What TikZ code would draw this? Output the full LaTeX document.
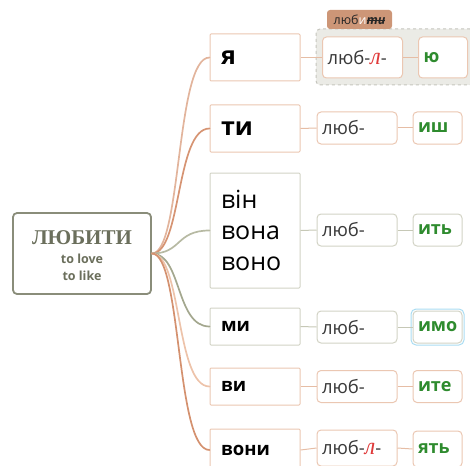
\documentclass[tikz,border=0pt]{standalone}
\usepackage{fontspec}
\setmainfont{Open Sans}
\newfontfamily\serifrm{Liberation Serif}
\usetikzlibrary{fit}

% struck-through text
\newcommand\strikeout[1]{\leavevmode\setbox0\hbox{#1}\rlap{\rule[0.27em]{\wd0}{0.7pt}}\box0}
% the inserted red letter
\newcommand\insl{{\serifrm\itshape\fontsize{24}{20}\selectfont\color{lred}л}}

\definecolor{peach}{HTML}{EBC7B2}
\definecolor{sage}{HTML}{D2D3C5}
\definecolor{peachln}{HTML}{E6BDA5}
\definecolor{sageln}{HTML}{C6C8B6}
\definecolor{rootln}{HTML}{8A8D7A}
\definecolor{roottx}{HTML}{6B6F5C}
\definecolor{stemtx}{HTML}{3A3A3A}
\definecolor{endtx}{HTML}{2E8B2E}
\definecolor{lred}{HTML}{E03A3A}
\definecolor{grpfill}{HTML}{EBEBE6}
\definecolor{grpline}{HTML}{C5C5BD}
\definecolor{tabfill}{HTML}{CD9677}
\definecolor{selblue}{HTML}{A9DCF2}
\definecolor{brA}{HTML}{E2B49C}
\definecolor{brB}{HTML}{D69473}
\definecolor{brC}{HTML}{B7BAA3}
\definecolor{brD}{HTML}{A3A78E}
\definecolor{brE}{HTML}{EDC3AA}
\definecolor{brF}{HTML}{D4916F}

\begin{document}
\begin{tikzpicture}[x=1pt,y=-1pt,
  pbox/.style={draw=#1, line width=1pt, fill=white, rounded corners=1pt,
    minimum width=90pt, text width=68pt, inner xsep=11pt, inner ysep=0pt,
    align=left, text=black},
  sbox/.style={draw=#1, line width=1pt, fill=white, rounded corners=4pt,
    minimum width=80pt, minimum height=32pt, text width=70pt, inner xsep=5pt,
    inner ysep=0pt, align=left, text=stemtx, font=\fontsize{18.5}{20}\selectfont},
  ebox/.style={draw=#1, line width=1pt, fill=white, rounded corners=4pt,
    minimum width=49pt, minimum height=32pt, text width=39pt, inner xsep=5pt,
    inner ysep=0pt, align=left, text=endtx, font=\bfseries\fontsize{18}{20}\selectfont},
  branch/.style={draw=#1, line width=1.7pt, line cap=round},
  link/.style={draw=#1, line width=1pt},
  roottext/.style={text=roottx, inner sep=0pt},
  bigp/.style={font=\bfseries\fontsize{25}{30}\selectfont},
  smallp/.style={font=\bfseries\fontsize{18.5}{22}\selectfont}]

\useasboundingbox (0,0) rectangle (470,465);

% root concept
\node[draw=rootln, line width=1.8pt, rounded corners=4pt, fill=white,
      minimum width=138pt, minimum height=81pt, inner sep=0pt] (root) at (82,253.5) {};
\node[roottext, font=\serifrm\bfseries\fontsize{21}{22}\selectfont] (rootword) at (82,238) {ЛЮБИТИ};
\node[roottext, font=\bfseries\fontsize{12.5}{14}\selectfont] (rootlove) at (82,259) {to love};
\node[roottext, font=\bfseries\fontsize{12.5}{14}\selectfont] (rootlike) at (82,276) {to like};

% pronoun boxes
\node[pbox=peach, minimum height=47pt, bigp] (p1) at (255,57.5) {я};
\node[pbox=peach, minimum height=47pt, bigp] (p2) at (255,128.5) {ти};
\node[pbox=sage, minimum height=115pt, font=\fontsize{25}{31}\selectfont] (p3) at (255,230.5) {він\\вона\\воно};
\node[pbox=sage, minimum height=37pt, smallp] (p4) at (255,326.5) {ми};
\node[pbox=peach, minimum height=37pt, smallp] (p5) at (255,386.5) {ви};
\node[pbox=peach, minimum height=42pt, smallp] (p6) at (255,450) {вони};

% grouped first row with its tab
\node[draw=grpline, dashed, line width=1pt, fill=grpfill, rounded corners=4pt,
      minimum width=158pt, minimum height=56pt, inner sep=0pt] (grp) at (395,57) {};
\node[fill=tabfill, rounded corners=3pt, minimum width=65pt, minimum height=19pt,
      inner sep=0pt, font=\fontsize{12.5}{13}\selectfont, text=black!85] (tab) at (359.5,19.5)
  {люб{\color{white}и}{\bfseries\itshape\strikeout{ти}}};

% stems
\node[sbox=peach, minimum width=79pt, minimum height=41pt] (s1) at (362.5,57.5) {люб-\insl-};
\node[sbox=peach] (s2) at (357,128) {люб-};
\node[sbox=sage] (s3) at (357,230) {люб-};
\node[sbox=sage] (s4) at (357,327) {люб-};
\node[sbox=peach] (s5) at (357,386.5) {люб-};
\node[sbox=peach, minimum height=36pt] (s6) at (357,448) {люб-\insl-};

% endings
\node[ebox=peach, minimum width=48pt, minimum height=41pt] (e1) at (443,57.5) {ю};
\node[ebox=peach] (e2) at (437.5,128) {иш};
\node[ebox=sage] (e3) at (437.5,230) {ить};
\node[ebox=sage] (e4) at (437.5,327) {имо};
\node[ebox=peach] (e5) at (437.5,386.5) {ите};
\node[ebox=peach, minimum height=36pt] (e6) at (437.5,449) {ять};
\node[draw=selblue, line width=1pt, rounded corners=5pt, fit=(e4), inner sep=1.5pt] (sel) {};

% branches from the root
\coordinate (hub) at (root.east);
\draw[branch=brA] (hub) .. controls +(30,0) and +(-34,0) .. (p1.west);
\draw[branch=brB] (hub) .. controls +(30,0) and +(-34,0) .. (p2.west);
\draw[branch=brC] (hub) .. controls +(30,0) and +(-34,0) .. (p3.west);
\draw[branch=brD] (hub) .. controls +(30,0) and +(-34,0) .. (p4.west);
\draw[branch=brE] (hub) .. controls +(30,0) and +(-34,0) .. (p5.west);
\draw[branch=brF] (hub) .. controls +(30,0) and +(-34,0) .. (p6.west);

% pronoun to stem to ending
\draw[link=peachln] (p1.east) -- (s1.west);
\draw[link=peachln] (s1.east) -- (e1.west);
\draw[link=peachln] (p2.east) -- (s2.west);
\draw[link=peachln] (s2.east) -- (e2.west);
\draw[link=sageln] (p3.east) -- (s3.west);
\draw[link=sageln] (s3.east) -- (e3.west);
\draw[link=sageln] (p4.east) -- (s4.west);
\draw[link=sageln] (s4.east) -- (e4.west);
\draw[link=peachln] (p5.east) -- (s5.west);
\draw[link=peachln] (s5.east) -- (e5.west);
\draw[link=peachln] (p6.east) -- (s6.west);
\draw[link=peachln] (s6.east) -- (e6.west);
\end{tikzpicture}
\end{document}
